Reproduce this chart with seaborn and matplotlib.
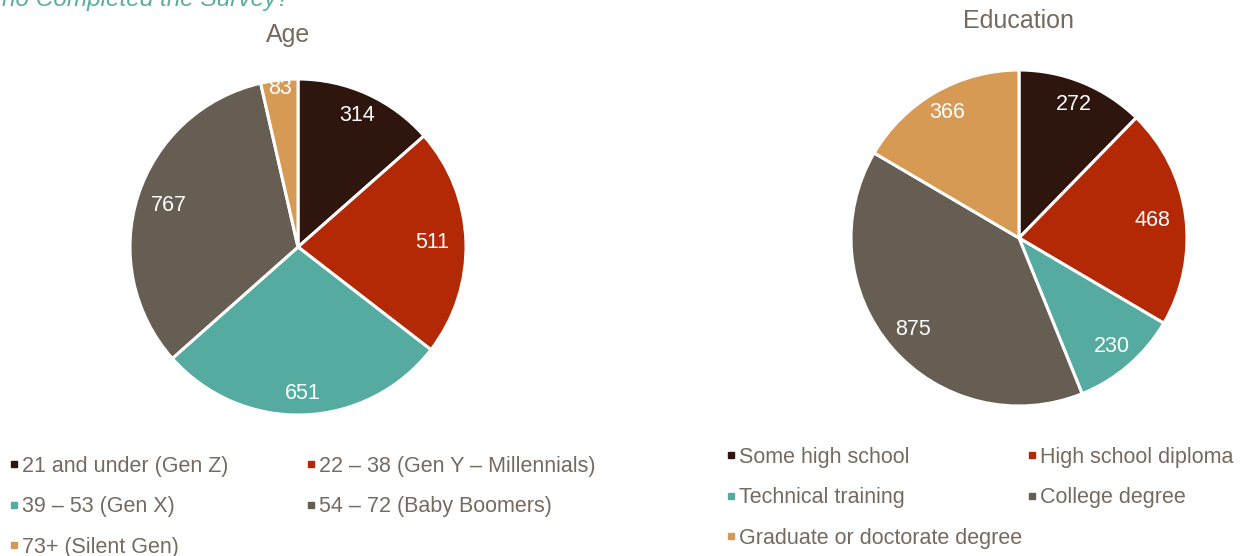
"""Survey respondents by age and education, two pie charts."""

import matplotlib

matplotlib.use("Agg")
import matplotlib.pyplot as plt
import seaborn as sns
from matplotlib.lines import Line2D

# data
age_labels = [
    "21 and under (Gen Z)",
    "22 – 38 (Gen Y – Millennials)",
    "39 – 53 (Gen X)",
    "54 – 72 (Baby Boomers)",
    "73+ (Silent Gen)",
]
age_counts = [314, 511, 651, 767, 83]

edu_labels = [
    "Some high school",
    "High school diploma",
    "Technical training",
    "College degree",
    "Graduate or doctorate degree",
]
edu_counts = [272, 468, 230, 875, 366]

palette = ["#2e150d", "#b32906", "#55ab9f", "#665e52", "#d79a55"]
TEXT = "#766a60"


def setup_style() -> None:
    sns.set_theme(style="white")
    plt.rcParams["font.family"] = ["Liberation Sans", "DejaVu Sans"]


def draw_pie(fig, rect, counts, label_dist):
    ax = fig.add_axes(rect)
    wedges, _, autotexts = ax.pie(
        counts,
        colors=palette,
        startangle=90,
        counterclock=False,
        autopct=lambda p: "",
        pctdistance=1.0,
        wedgeprops={"edgecolor": "white", "linewidth": 2.2},
    )
    for txt, val, d in zip(autotexts, counts, label_dist):
        x, y = txt.get_position()
        txt.set_position((x * d, y * d))
        txt.set_text(str(val))
        txt.set_color("white")
        txt.set_fontsize(15.5)
    ax.set_xlim(-1, 1)
    ax.set_ylim(-1, 1)
    ax.set_aspect("equal")
    return wedges


def add_legend(fig, labels, anchor, colspace):
    handles = [
        Line2D([], [], marker="s", linestyle="", color=c, markersize=4.5)
        for c in palette
    ]
    order = [0, 2, 4, 1, 3]
    leg = fig.legend(
        [handles[i] for i in order],
        [labels[i] for i in order],
        loc="upper left",
        bbox_to_anchor=anchor,
        ncol=2,
        frameon=False,
        fontsize=15.5,
        handlelength=0.4,
        handletextpad=0.2,
        columnspacing=colspace,
        labelspacing=0.9,
        borderpad=0,
        borderaxespad=0,
    )
    for t in leg.get_texts():
        t.set_color(TEXT)


def main() -> None:
    setup_style()
    W, H = 1241, 556
    fig = plt.figure(figsize=(W / 100, H / 100), dpi=100)

    # Age pie: center (298, 247), r 168 px
    draw_pie(fig, [130 / W, (H - 415) / H, 336 / W, 336 / H],
             age_counts, [0.86, 0.80, 0.875, 0.81, 0.95])
    # Education pie: center (1019, 238), r 168 px
    draw_pie(fig, [851 / W, (H - 406) / H, 336 / W, 336 / H],
             edu_counts, [0.86, 0.80, 0.85, 0.83, 0.86])

    fig.text(288 / W, 1 - 35 / H, "Age", ha="center", va="center",
             fontsize=18, color=TEXT)
    fig.text(1019 / W, 1 - 21 / H, "Education", ha="center", va="center",
             fontsize=18, color=TEXT)
    fig.text(-21 / W, 1 - 6 / H, "Who Completed the Survey?", ha="left",
             va="baseline", fontsize=17.6, style="italic", color="#5aaea0")

    add_legend(fig, age_labels, (9.5 / W, 1 - 456 / H), 3.6)
    add_legend(fig, edu_labels, (726.5 / W, 1 - 447 / H), 0.22)

    fig.savefig("out.png", dpi=100)
    plt.close(fig)


if __name__ == "__main__":
    main()
